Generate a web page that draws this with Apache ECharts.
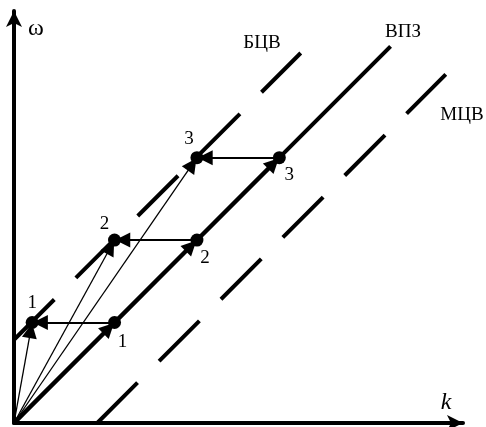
<!DOCTYPE html>
<html>
<head>
<meta charset="utf-8">
<script src="https://cdn.jsdelivr.net/npm/echarts@6/dist/echarts.min.js"></script>
<style>html,body{margin:0;padding:0;background:#fff}#c{width:486px;height:427px}</style>
</head>
<body>
<div id="c"></div>
<script>
// Data (in axis units)
const vpzLine = [[0, 0], [4.57, 4.57]];          // ВПЗ
const bcvLine = [[0, 1.01], [3.48, 4.49]];       // БЦВ
const mcvLine = [[1.01, 0], [5.24, 4.23]];       // МЦВ
const vpzPoints = [[1.22, 1.22], [2.22, 2.22], [3.22, 3.22]];
const bcvPoints = [[0.22, 1.22], [1.22, 2.22], [2.22, 3.22]];
const pointLabels = ['1', '2', '3'];
const lineNames = ['БЦВ', 'ВПЗ', 'МЦВ'];
const axisNames = ['k', 'ω'];
const xMax = 5.449, yMax = 5.0;

const FONT = '"Liberation Serif", "DejaVu Serif", serif';
const chart = echarts.init(document.getElementById('c'), null, {renderer: 'canvas'});

// shorten a segment's end (in data units) so the arrow tip touches the dot
function shorten(p, q, d) {
  const dx = q[0] - p[0], dy = q[1] - p[1];
  const L = Math.hypot(dx, dy);
  return [q[0] - dx / L * d, q[1] - dy / L * d];
}
const origin = vpzLine[0];
const arrowGap = 0.1;

const vpzArrows = [];
let prev = origin;
vpzPoints.forEach(p => { vpzArrows.push([{coord: prev}, {coord: shorten(prev, p, arrowGap)}]); prev = p; });
const rayArrows = bcvPoints.map(p => [{coord: origin}, {coord: shorten(origin, p, arrowGap)}]);
const horArrows = vpzPoints.map((p, i) => [{coord: p}, {coord: shorten(p, bcvPoints[i], arrowGap)}]);

const dash = [57, 30.5];
const vpzLabelOffsets = [[8, 20], [8, 18], [10, 17]];
const bcvLabelOffsets = [[0, -19], [-10, -16], [-8, -19]];

chart.setOption({
  animation: false,
  grid: {left: 14, bottom: 4, top: 427 - 4 - yMax * 82.4, width: xMax * 82.4, containLabel: false},
  xAxis: {
    type: 'value', min: 0, max: xMax,
    axisLine: {show: true, lineStyle: {color: '#000', width: 4}, symbol: ['none', 'arrow'], symbolSize: [12, 16]},
    axisTick: {show: false}, axisLabel: {show: false}, splitLine: {show: false}
  },
  yAxis: {
    type: 'value', min: 0, max: yMax,
    axisLine: {show: true, lineStyle: {color: '#000', width: 4}, symbol: ['none', 'arrow'], symbolSize: [12, 16]},
    axisTick: {show: false}, axisLabel: {show: false}, splitLine: {show: false}
  },
  series: [
    {type: 'line', data: vpzLine, symbol: 'none', lineStyle: {color: '#000', width: 4}, z: 2},
    {type: 'line', data: bcvLine, symbol: 'none', lineStyle: {color: '#000', width: 4, type: dash, cap: 'butt'}, z: 2},
    {type: 'line', data: mcvLine, symbol: 'none', lineStyle: {color: '#000', width: 4, type: dash, cap: 'butt'}, z: 2},
    {
      type: 'line', data: [], symbol: 'none', z: 3,
      markLine: {
        silent: true, animation: false,
        symbol: ['none', 'triangle'], symbolSize: 15,
        label: {show: false},
        lineStyle: {color: '#000', width: 1.3, type: 'solid'},
        data: rayArrows.concat(horArrows.map(a => [Object.assign({}, a[0], {lineStyle: {width: 1.8}}), a[1]]))
          .concat(vpzArrows.map(a => [Object.assign({}, a[0], {lineStyle: {width: 4}}), a[1]]))
      }
    },
    {
      type: 'scatter', data: vpzPoints, symbol: 'circle', symbolSize: 13, z: 5,
      itemStyle: {color: '#000', opacity: 1},
      label: {show: true, formatter: p => pointLabels[p.dataIndex], fontFamily: FONT, fontSize: 19, color: '#000', position: 'inside'},
      labelLayout: p => ({dx: vpzLabelOffsets[p.dataIndex][0], dy: vpzLabelOffsets[p.dataIndex][1]})
    },
    {
      type: 'scatter', data: bcvPoints, symbol: 'circle', symbolSize: 13, z: 5,
      itemStyle: {color: '#000', opacity: 1},
      label: {show: true, formatter: p => pointLabels[p.dataIndex], fontFamily: FONT, fontSize: 19, color: '#000', position: 'inside'},
      labelLayout: p => ({dx: bcvLabelOffsets[p.dataIndex][0], dy: bcvLabelOffsets[p.dataIndex][1]})
    }
  ],
  graphic: [
    {type: 'text', x: 262, y: 43, style: {text: lineNames[0], font: '19px ' + FONT, fill: '#000', textAlign: 'center', textVerticalAlign: 'middle'}},
    {type: 'text', x: 403, y: 32, style: {text: lineNames[1], font: '19px ' + FONT, fill: '#000', textAlign: 'center', textVerticalAlign: 'middle'}},
    {type: 'text', x: 462, y: 115, style: {text: lineNames[2], font: '19px ' + FONT, fill: '#000', textAlign: 'center', textVerticalAlign: 'middle'}},
    {type: 'text', x: 446, y: 403, style: {text: axisNames[0], font: 'italic 24px ' + FONT, fill: '#000', textAlign: 'center', textVerticalAlign: 'middle'}},
    {type: 'text', x: 36, y: 29, style: {text: axisNames[1], font: '24px ' + FONT, fill: '#000', textAlign: 'center', textVerticalAlign: 'middle'}}
  ]
});
</script>
</body>
</html>
